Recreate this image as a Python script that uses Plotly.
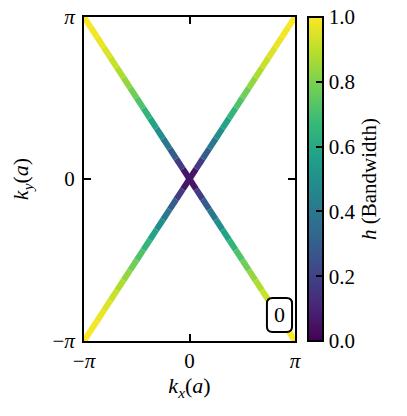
import numpy as np
import plotly.graph_objects as go
from plotly.colors import sample_colorscale

PI = np.pi

# sample points along the two diagonals, in units of pi
kx_frac = [-1.0, -0.9375, -0.875, -0.8125, -0.75, -0.6875, -0.625, -0.5625,
           -0.5, -0.4375, -0.375, -0.3125, -0.25, -0.1875, -0.125, -0.0625,
           0.0, 0.0625, 0.125, 0.1875, 0.25, 0.3125, 0.375, 0.4375,
           0.5, 0.5625, 0.625, 0.6875, 0.75, 0.8125, 0.875, 0.9375, 1.0]
ky_up = kx_frac
ky_down = [-v for v in kx_frac]
# bandwidth
h_vals = [1.0, 0.99, 0.98, 0.96, 0.94, 0.9, 0.86, 0.81,
          0.75, 0.69, 0.62, 0.54, 0.45, 0.35, 0.24, 0.12,
          0.0, 0.12, 0.24, 0.35, 0.45, 0.54, 0.62, 0.69,
          0.75, 0.81, 0.86, 0.9, 0.94, 0.96, 0.98, 0.99, 1.0]

tick_vals = [-PI, 0, PI]
tick_text = ['\u2212<i>\u03c0</i>', '0', '<i>\u03c0</i>']
cbar_ticks = [0.0, 0.2, 0.4, 0.6, 0.8, 1.0]
panel_label = '0'

FONT = 'Liberation Serif, Times New Roman, serif'

fig = go.Figure()

for ky in (ky_up, ky_down):
    for i in range(len(kx_frac) - 1):
        hm = 0.5 * (h_vals[i] + h_vals[i + 1])
        col = sample_colorscale('Viridis', [hm])[0]
        fig.add_trace(go.Scatter(
            x=[kx_frac[i] * PI, kx_frac[i + 1] * PI],
            y=[ky[i] * PI, ky[i + 1] * PI],
            mode='lines', line=dict(color=col, width=6),
            showlegend=False, hoverinfo='skip'))

# dummy trace that carries the colorbar
fig.add_trace(go.Scatter(
    x=[None], y=[None], mode='markers', showlegend=False,
    marker=dict(color=[0, 1], colorscale='Viridis', cmin=0, cmax=1,
                showscale=True,
                colorbar=dict(
                    x=1.0616, xanchor='left', y=0.5, yanchor='middle',
                    len=1.0, lenmode='fraction', thickness=15,
                    xpad=0, ypad=0,
                    outlinewidth=2, outlinecolor='black',
                    ticks='inside', ticklen=8, tickwidth=1.5, tickcolor='black',
                    ticklabeloverflow='allow',
                    tickvals=cbar_ticks, ticktext=['%.1f' % t for t in cbar_ticks],
                    tickfont=dict(family=FONT, size=21, color='black'),
                    title=dict(text='<i>h</i> (Bandwidth)', side='right',
                               font=dict(family=FONT, size=21, color='black'))))))

axis_common = dict(
    range=[-PI, PI], tickvals=tick_vals, ticktext=tick_text,
    ticks='inside', ticklen=7, tickwidth=1.5, tickcolor='black',
    showline=True, linewidth=2, linecolor='black', mirror='ticks',
    showgrid=False, zeroline=False, automargin=False,
    ticklabeloverflow='allow',
    tickfont=dict(family=FONT, size=21, color='black'),
)

fig.update_xaxes(**axis_common, ticklabelstandoff=0,
                 title=dict(text='<i>k</i><sub><i>x</i></sub>(<i>a</i>)', standoff=4,
                            font=dict(family=FONT, size=22, color='black')))
fig.update_yaxes(**axis_common, ticklabelstandoff=3,
                 title=dict(text='<i>k</i><sub><i>y</i></sub>(<i>a</i>)', standoff=30,
                            font=dict(family=FONT, size=22, color='black')))

# rounded box for the panel label (paper coordinates)
x0, x1, y0, y1 = 0.867, 0.986, 0.028, 0.133
rx, ry = 0.026, 0.017
path = (f'M {x0 + rx},{y0} L {x1 - rx},{y0} Q {x1},{y0} {x1},{y0 + ry} '
        f'L {x1},{y1 - ry} Q {x1},{y1} {x1 - rx},{y1} '
        f'L {x0 + rx},{y1} Q {x0},{y1} {x0},{y1 - ry} '
        f'L {x0},{y0 + ry} Q {x0},{y0} {x0 + rx},{y0} Z')
fig.add_shape(type='path', path=path, xref='paper', yref='paper',
              line=dict(color='black', width=2), fillcolor='white', layer='above')
fig.add_annotation(x=(x0 + x1) / 2, y=(y0 + y1) / 2, xref='paper', yref='paper',
                   xanchor='center', yanchor='middle',
                   text=panel_label, showarrow=False,
                   font=dict(family=FONT, size=22, color='black'))

# the page body adds an 8 px offset, so the figure is 8 px smaller
fig.update_layout(
    width=399, height=408,
    margin=dict(l=76, r=112, t=9, b=75, autoexpand=False),
    plot_bgcolor='white', paper_bgcolor='white',
    font=dict(family=FONT, color='black'),
)

fig.write_html('out.html')
